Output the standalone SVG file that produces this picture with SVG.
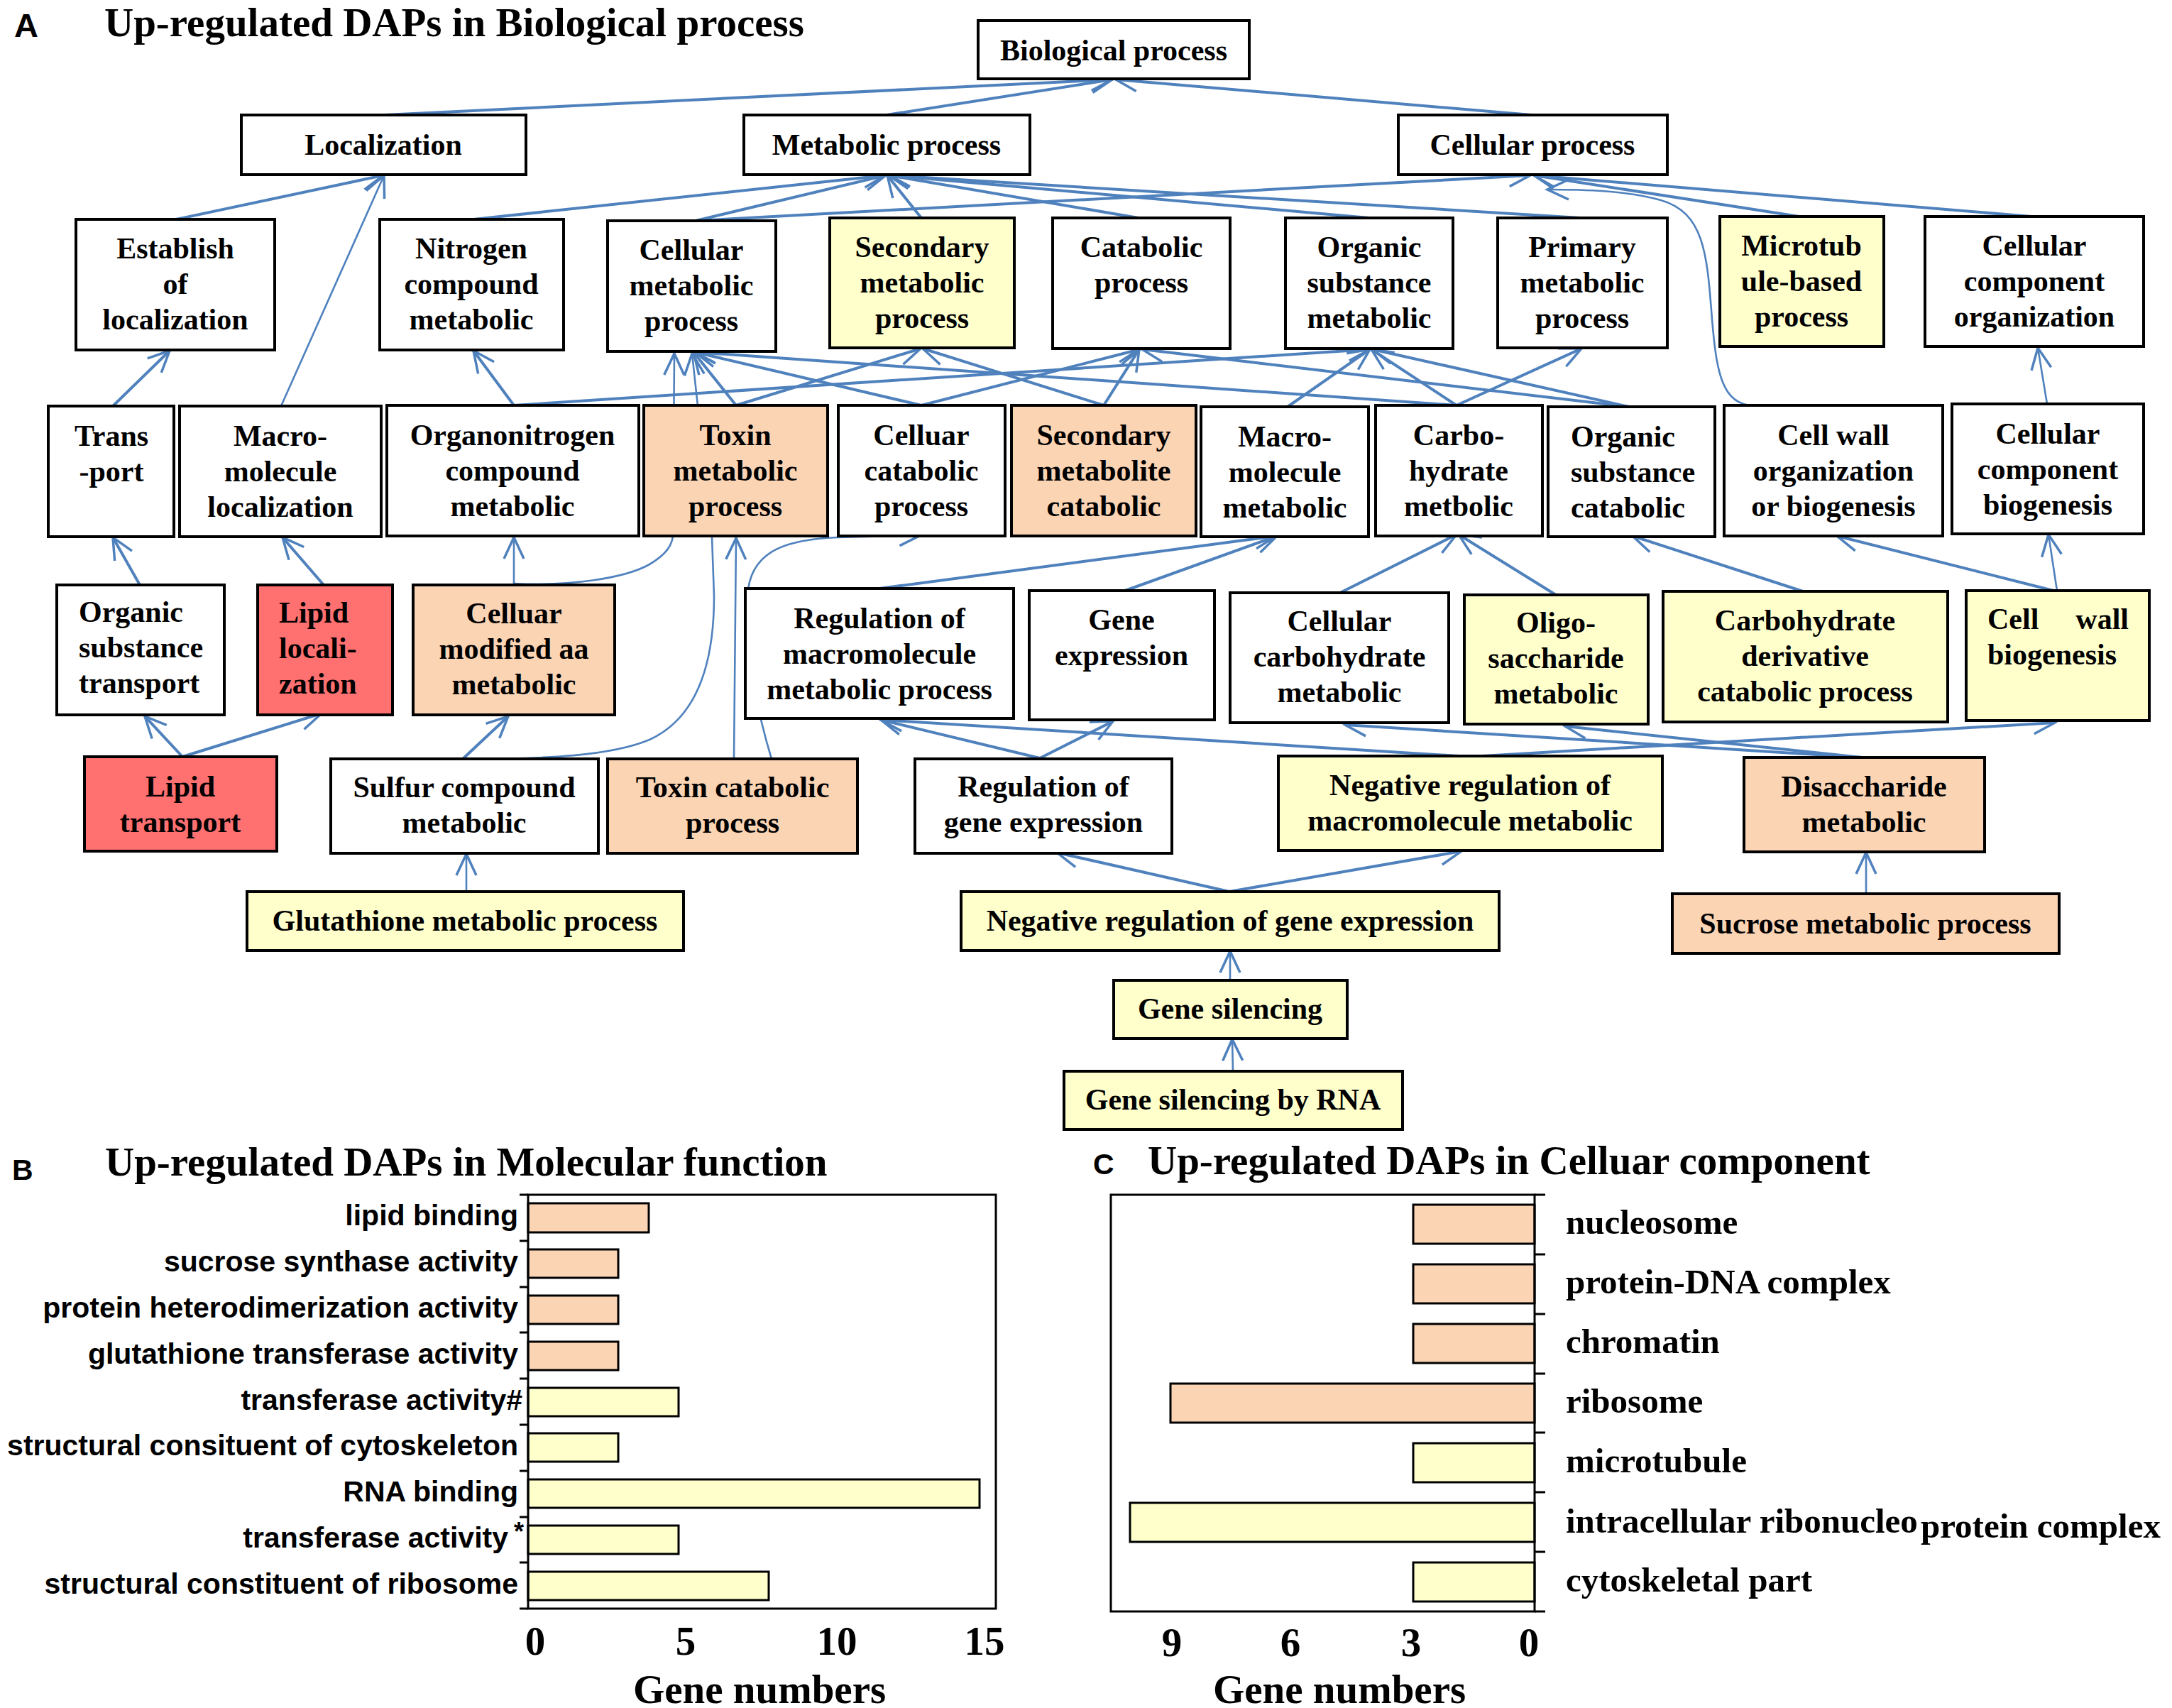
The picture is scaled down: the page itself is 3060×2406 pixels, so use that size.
<svg xmlns="http://www.w3.org/2000/svg" width="3060" height="2406" viewBox="0 0 3060 2406">
<style>
.bx{stroke:#000;stroke-width:4}
.w{fill:#fff}.y{fill:#FFFFCC}.p{fill:#FBD4B4}.r{fill:#FF7070}
.t{font-family:'Liberation Serif','Times New Roman',serif;font-weight:bold;font-size:42px;text-anchor:middle;fill:#000}
.l{text-anchor:start}
.e{fill:none;stroke:#4F81BD;stroke-width:4;marker-end:url(#ah)}
.th{stroke-width:2.6}
.ttl{font-family:'Liberation Serif','Times New Roman',serif;font-weight:bold;font-size:57px;fill:#000}
.lt{font-family:'Liberation Sans',Arial,sans-serif;font-weight:bold;fill:#000}
.bl{font-family:'Liberation Sans',Arial,sans-serif;font-weight:bold;font-size:41px;text-anchor:end;fill:#000}
.cl{font-family:'Liberation Serif','Times New Roman',serif;font-weight:bold;font-size:49px;fill:#000}
.ax{font-family:'Liberation Serif','Times New Roman',serif;font-weight:bold;font-size:57px;text-anchor:middle;fill:#000}
.bar{stroke:#000;stroke-width:3}
.fr{fill:none;stroke:#000;stroke-width:3}
</style>
<defs>
<marker id="ah" markerUnits="userSpaceOnUse" markerWidth="44" markerHeight="44" viewBox="-36 -22 44 44" refX="0" refY="0" orient="auto">
<path d="M-30,-14 L0,0 L-30,14" fill="none" stroke="#4F81BD" stroke-width="3.5"/>
</marker>
</defs>
<rect width="3060" height="2406" fill="#fff"/>

<g id="titles">
<text class="lt" x="20" y="52" font-size="47">A</text>
<text class="ttl" x="147" y="51" font-size="56">Up-regulated DAPs in Biological process</text>
<text class="lt" x="17" y="1662" font-size="41">B</text>
<text class="ttl" x="148" y="1656">Up-regulated DAPs in Molecular function</text>
<text class="lt" x="1540" y="1654" font-size="41">C</text>
<text class="ttl" x="1617" y="1654">Up-regulated DAPs in Celluar component</text>
</g>

<g id="connectors">
<path class="e" d="M541,162 L1567,112"/>
<path class="e" d="M1249,162 L1567,112"/>
<path class="e" d="M2158,162 L1572,112"/>
<path class="e" d="M248,309 L540,247"/>
<path class="e th" d="M396,572 L541,247"/>
<path class="e" d="M667,309 L1247,247"/>
<path class="e" d="M980,311 L1248,247"/>
<path class="e" d="M1298,307 L1250,247"/>
<path class="e" d="M1604,307 L1252,247"/>
<path class="e" d="M1929,307 L1253,247"/>
<path class="e" d="M2227,307 L1253,247"/>
<path class="e" d="M980,311 L2156,247"/>
<path class="e" d="M2535,305 L2161,247"/>
<path class="e" d="M2862,305 L2161,247"/>
<path class="e th" d="M2580,571 L2470,571 C2425,571 2418,520 2412,450 C2405,360 2402,300 2340,282 C2290,268 2230,267 2180,267"/>
<path class="e" d="M159,572 L239,494"/>
<path class="e" d="M724,571 L667,494"/>
<path class="e" d="M724,571 L1930,492"/>
<path class="e" d="M1037,571 L977,496"/>
<path class="e" d="M1037,571 L1297,491"/>
<path class="e" d="M1298,571 L979,496"/>
<path class="e" d="M1298,571 L1606,492"/>
<path class="e" d="M1555,571 L1300,491"/>
<path class="e" d="M1555,571 L1605,492"/>
<path class="e" d="M1814,573 L1930,492"/>
<path class="e" d="M2052,571 L1932,492"/>
<path class="e" d="M2052,571 L2228,491"/>
<path class="e" d="M2052,571 L979,496"/>
<path class="e" d="M2295,573 L1933,492"/>
<path class="e" d="M2295,573 L1609,492"/>
<path class="e th" d="M2884,569 L2871,490"/>
<path class="e th" d="M724,822 C800,826 880,815 915,795 C940,780 946,768 948,756 L950,498"/>
<path class="e th" d="M724,824 L724,757"/>
<path class="e th" d="M659,1069 C770,1069 860,1065 915,1042 C985,1010 1006,930 1006,840 L1003,756 L975,498"/>
<path class="e th" d="M1034,1069 L1037,758"/>
<path class="e th" d="M1087,1069 C1060,980 1050,900 1053,840 C1056,780 1100,760 1180,757 L1297,754"/>
<path class="e" d="M197,824 L159,757"/>
<path class="e" d="M456,824 L398,757"/>
<path class="e" d="M1239,829 L1798,755"/>
<path class="e" d="M1585,832 L1799,755"/>
<path class="e" d="M1888,835 L2052,753"/>
<path class="e" d="M2192,838 L2055,753"/>
<path class="e" d="M2540,833 L2300,755"/>
<path class="e" d="M2893,832 L2588,755"/>
<path class="e th" d="M2898,832 L2886,753"/>
<path class="e" d="M257,1066 L204,1009"/>
<path class="e" d="M257,1066 L453,1005"/>
<path class="e" d="M652,1069 L716,1009"/>
<path class="e" d="M1465,1068 L1241,1014"/>
<path class="e" d="M1465,1068 L1568,1016"/>
<path class="e" d="M2071,1066 L1241,1014"/>
<path class="e" d="M2071,1066 L2895,1018"/>
<path class="e" d="M2623,1067 L1895,1021"/>
<path class="e" d="M2623,1067 L2205,1023"/>
<path class="e th" d="M657,1256 L657,1203"/>
<path class="e" d="M1732,1256 L1489,1201"/>
<path class="e" d="M1732,1256 L2059,1199"/>
<path class="e th" d="M2629,1259 L2629,1201"/>
<path class="e th" d="M1733,1381 L1733,1340"/>
<path class="e th" d="M1737,1509 L1736,1464"/>
</g>

<g id="n-bio"><rect class="bx w" x="1378" y="29" width="382" height="82"/><text class="t" x="1569" y="85">Biological process</text></g>
<g id="n-loc"><rect class="bx w" x="340" y="162" width="401" height="84"/><text class="t" x="540" y="218">Localization</text></g>
<g id="n-met"><rect class="bx w" x="1048" y="162" width="403" height="84"/><text class="t" x="1249" y="218">Metabolic process</text></g>
<g id="n-cel"><rect class="bx w" x="1970" y="162" width="379" height="84"/><text class="t" x="2159" y="218">Cellular process</text></g>

<g id="n-est"><rect class="bx w" x="107" y="309" width="280" height="184"/><text class="t" x="247" y="364">Establish<tspan x="247" dy="50">of</tspan><tspan x="247" dy="50">localization</tspan></text></g>
<g id="n-nit"><rect class="bx w" x="535" y="309" width="259" height="184"/><text class="t" x="664" y="364">Nitrogen<tspan x="664" dy="50">compound</tspan><tspan x="664" dy="50">metabolic</tspan></text></g>
<g id="n-cmp"><rect class="bx w" x="856" y="311" width="237" height="184"/><text class="t" x="974" y="366">Cellular<tspan x="974" dy="50">metabolic</tspan><tspan x="974" dy="50">process</tspan></text></g>
<g id="n-sec"><rect class="bx y" x="1169" y="307" width="260" height="183"/><text class="t" x="1299" y="362">Secondary<tspan x="1299" dy="50">metabolic</tspan><tspan x="1299" dy="50">process</tspan></text></g>
<g id="n-cat"><rect class="bx w" x="1483" y="307" width="250" height="184"/><text class="t" x="1608" y="362">Catabolic<tspan x="1608" dy="50">process</tspan></text></g>
<g id="n-org"><rect class="bx w" x="1811" y="307" width="236" height="184"/><text class="t" x="1929" y="362">Organic<tspan x="1929" dy="50">substance</tspan><tspan x="1929" dy="50">metabolic</tspan></text></g>
<g id="n-pri"><rect class="bx w" x="2110" y="307" width="239" height="183"/><text class="t" x="2229" y="362">Primary<tspan x="2229" dy="50">metabolic</tspan><tspan x="2229" dy="50">process</tspan></text></g>
<g id="n-mic"><rect class="bx y" x="2423" y="305" width="231" height="183"/><text class="t" x="2538" y="360">Microtub<tspan x="2538" dy="50">ule-based</tspan><tspan x="2538" dy="50">process</tspan></text></g>
<g id="n-cco"><rect class="bx w" x="2712" y="305" width="308" height="183"/><text class="t" x="2866" y="360">Cellular<tspan x="2866" dy="50">component</tspan><tspan x="2866" dy="50">organization</tspan></text></g>

<g id="n-tra"><rect class="bx w" x="68" y="572" width="177" height="184"/><text class="t" x="157" y="628">Trans<tspan x="157" dy="50">-port</tspan></text></g>
<g id="n-mml"><rect class="bx w" x="253" y="572" width="284" height="184"/><text class="t" x="395" y="628">Macro-<tspan x="395" dy="50">molecule</tspan><tspan x="395" dy="50">localization</tspan></text></g>
<g id="n-onc"><rect class="bx w" x="545" y="571" width="355" height="184"/><text class="t" x="722" y="627">Organonitrogen<tspan x="722" dy="50">compound</tspan><tspan x="722" dy="50">metabolic</tspan></text></g>
<g id="n-tox"><rect class="bx p" x="907" y="571" width="259" height="184"/><text class="t" x="1036" y="627">Toxin<tspan x="1036" dy="50">metabolic</tspan><tspan x="1036" dy="50">process</tspan></text></g>
<g id="n-ccp"><rect class="bx w" x="1181" y="571" width="235" height="184"/><text class="t" x="1298" y="627">Celluar<tspan x="1298" dy="50">catabolic</tspan><tspan x="1298" dy="50">process</tspan></text></g>
<g id="n-smc"><rect class="bx p" x="1425" y="571" width="260" height="184"/><text class="t" x="1555" y="627">Secondary<tspan x="1555" dy="50">metabolite</tspan><tspan x="1555" dy="50">catabolic</tspan></text></g>
<g id="n-mmm"><rect class="bx w" x="1692" y="573" width="236" height="183"/><text class="t" x="1810" y="629">Macro-<tspan x="1810" dy="50">molecule</tspan><tspan x="1810" dy="50">metabolic</tspan></text></g>
<g id="n-chm"><rect class="bx w" x="1938" y="571" width="235" height="184"/><text class="t" x="2055" y="627">Carbo-<tspan x="2055" dy="50">hydrate</tspan><tspan x="2055" dy="50">metbolic</tspan></text></g>
<g id="n-osc"><rect class="bx w" x="2181" y="573" width="235" height="183"/><text class="t l" x="2213" y="629">Organic<tspan x="2213" dy="50">substance</tspan><tspan x="2213" dy="50">catabolic</tspan></text></g>
<g id="n-cwo"><rect class="bx w" x="2429" y="571" width="308" height="184"/><text class="t" x="2583" y="627">Cell wall<tspan x="2583" dy="50">organization</tspan><tspan x="2583" dy="50">or biogenesis</tspan></text></g>
<g id="n-ccb"><rect class="bx w" x="2750" y="569" width="270" height="183"/><text class="t" x="2885" y="625">Cellular<tspan x="2885" dy="50">component</tspan><tspan x="2885" dy="50">biogenesis</tspan></text></g>

<g id="n-ost"><rect class="bx w" x="80" y="824" width="236" height="183"/><text class="t l" x="111" y="876">Organic<tspan x="111" dy="50">substance</tspan><tspan x="111" dy="50">transport</tspan></text></g>
<g id="n-lil"><rect class="bx r" x="363" y="824" width="190" height="183"/><text class="t l" x="393" y="877">Lipid<tspan x="393" dy="50">locali-</tspan><tspan x="393" dy="50">zation</tspan></text></g>
<g id="n-cma"><rect class="bx p" x="582" y="824" width="284" height="183"/><text class="t" x="724" y="878">Celluar<tspan x="724" dy="50">modified aa</tspan><tspan x="724" dy="50">metabolic</tspan></text></g>
<g id="n-rmm"><rect class="bx w" x="1050" y="829" width="378" height="183"/><text class="t" x="1239" y="885">Regulation of<tspan x="1239" dy="50">macromolecule</tspan><tspan x="1239" dy="50">metabolic process</tspan></text></g>
<g id="n-gex"><rect class="bx w" x="1450" y="832" width="261" height="182"/><text class="t" x="1580" y="887">Gene<tspan x="1580" dy="50">expression</tspan></text></g>
<g id="n-cch"><rect class="bx w" x="1733" y="835" width="308" height="183"/><text class="t" x="1887" y="889">Cellular<tspan x="1887" dy="50">carbohydrate</tspan><tspan x="1887" dy="50">metabolic</tspan></text></g>
<g id="n-oli"><rect class="bx y" x="2063" y="838" width="259" height="182"/><text class="t" x="2192" y="891">Oligo-<tspan x="2192" dy="50">saccharide</tspan><tspan x="2192" dy="50">metabolic</tspan></text></g>
<g id="n-cdc"><rect class="bx y" x="2343" y="833" width="401" height="184"/><text class="t" x="2543" y="888">Carbohydrate<tspan x="2543" dy="50">derivative</tspan><tspan x="2543" dy="50">catabolic process</tspan></text></g>
<g id="n-cwb"><rect class="bx y" x="2770" y="832" width="258" height="183"/><text class="t l" x="2800" y="886">Cell<tspan x="2999" style="text-anchor:end">wall</tspan><tspan x="2800" dy="50">biogenesis</tspan></text></g>

<g id="n-lit"><rect class="bx r" x="119" y="1066" width="271" height="133"/><text class="t" x="254" y="1122">Lipid<tspan x="254" dy="50">transport</tspan></text></g>
<g id="n-sul"><rect class="bx w" x="466" y="1069" width="377" height="133"/><text class="t" x="654" y="1123">Sulfur compound<tspan x="654" dy="50">metabolic</tspan></text></g>
<g id="n-tcp"><rect class="bx p" x="856" y="1069" width="352" height="133"/><text class="t" x="1032" y="1123">Toxin catabolic<tspan x="1032" dy="50">process</tspan></text></g>
<g id="n-rge"><rect class="bx w" x="1289" y="1069" width="362" height="133"/><text class="t" x="1470" y="1122">Regulation of<tspan x="1470" dy="50">gene expression</tspan></text></g>
<g id="n-nrm"><rect class="bx y" x="1801" y="1065" width="541" height="133"/><text class="t" x="2071" y="1120">Negative regulation of<tspan x="2071" dy="50">macromolecule metabolic</tspan></text></g>
<g id="n-dis"><rect class="bx p" x="2457" y="1067" width="339" height="133"/><text class="t" x="2626" y="1122">Disaccharide<tspan x="2626" dy="50">metabolic</tspan></text></g>

<g id="n-glu"><rect class="bx y" x="348" y="1256" width="615" height="83"/><text class="t" x="655" y="1311">Glutathione metabolic process</text></g>
<g id="n-nrg"><rect class="bx y" x="1354" y="1256" width="758" height="83"/><text class="t" x="1733" y="1311">Negative regulation of gene expression</text></g>
<g id="n-suc"><rect class="bx p" x="2356" y="1259" width="545" height="84"/><text class="t" x="2628" y="1315">Sucrose metabolic process</text></g>
<g id="n-gs"><rect class="bx y" x="1569" y="1381" width="329" height="82"/><text class="t" x="1733" y="1435">Gene silencing</text></g>
<g id="n-gsr"><rect class="bx y" x="1499" y="1509" width="477" height="82"/><text class="t" x="1737" y="1563">Gene silencing by RNA</text></g>

<g id="chart-b">
<rect class="bar p" x="744" y="1695" width="170" height="41"/>
<rect class="bar p" x="744" y="1760" width="127" height="40"/>
<rect class="bar p" x="744" y="1825" width="127" height="40"/>
<rect class="bar p" x="744" y="1890" width="127" height="40"/>
<rect class="bar y" x="744" y="1955" width="212" height="40"/>
<rect class="bar y" x="744" y="2019" width="127" height="40"/>
<rect class="bar y" x="744" y="2084" width="636" height="40"/>
<rect class="bar y" x="744" y="2149" width="212" height="40"/>
<rect class="bar y" x="744" y="2214" width="339" height="40"/>
<rect class="fr" x="744" y="1683" width="659" height="583"/>
<path d="M732,1683H744M732,1748H744M732,1813H744M732,1877H744M732,1942H744M732,2007H744M732,2072H744M732,2137H744M732,2201H744M732,2266H744" stroke="#000" stroke-width="3"/>
<text class="bl" x="730" y="1726">lipid binding</text>
<text class="bl" x="730" y="1791">sucrose synthase activity</text>
<text class="bl" x="730" y="1856">protein heterodimerization activity</text>
<text class="bl" x="730" y="1921">glutathione transferase activity</text>
<text class="bl" x="736" y="1986">transferase activity#</text>
<text class="bl" x="730" y="2050">structural consituent of cytoskeleton</text>
<text class="bl" x="730" y="2115">RNA binding</text>
<text class="bl" x="716" y="2180">transferase activity<tspan x="738" y="2170" font-size="36">*</tspan></text>
<text class="bl" x="730" y="2245">structural constituent of ribosome</text>
<text class="ax" x="754" y="2331">0</text>
<text class="ax" x="966" y="2331">5</text>
<text class="ax" x="1179" y="2331">10</text>
<text class="ax" x="1387" y="2331">15</text>
<text class="ax" x="1070" y="2399">Gene numbers</text>
</g>

<g id="chart-c">
<rect class="bar p" x="1991" y="1697" width="171" height="55"/>
<rect class="bar p" x="1991" y="1781" width="171" height="55"/>
<rect class="bar p" x="1991" y="1865" width="171" height="55"/>
<rect class="bar p" x="1649" y="1949" width="513" height="55"/>
<rect class="bar y" x="1991" y="2033" width="171" height="55"/>
<rect class="bar y" x="1592" y="2117" width="570" height="55"/>
<rect class="bar y" x="1991" y="2201" width="171" height="55"/>
<rect class="fr" x="1565" y="1683" width="597" height="587"/>
<path d="M2162,1683H2177M2162,1767H2177M2162,1851H2177M2162,1935H2177M2162,2018H2177M2162,2102H2177M2162,2186H2177M2162,2270H2177" stroke="#000" stroke-width="3"/>
<text class="cl" x="2206" y="1738">nucleosome</text>
<text class="cl" x="2206" y="1822">protein-DNA complex</text>
<text class="cl" x="2206" y="1906">chromatin</text>
<text class="cl" x="2206" y="1990">ribosome</text>
<text class="cl" x="2206" y="2074">microtubule</text>
<text class="cl" x="2206" y="2159">intracellular ribonucleo</text>
<text class="cl" x="2706" y="2166">protein complex</text>
<text class="cl" x="2206" y="2242">cytoskeletal part</text>
<text class="ax" x="1651" y="2333">9</text>
<text class="ax" x="1818" y="2333">6</text>
<text class="ax" x="1988" y="2333">3</text>
<text class="ax" x="2154" y="2333">0</text>
<text class="ax" x="1887" y="2399">Gene numbers</text>
</g>
</svg>
